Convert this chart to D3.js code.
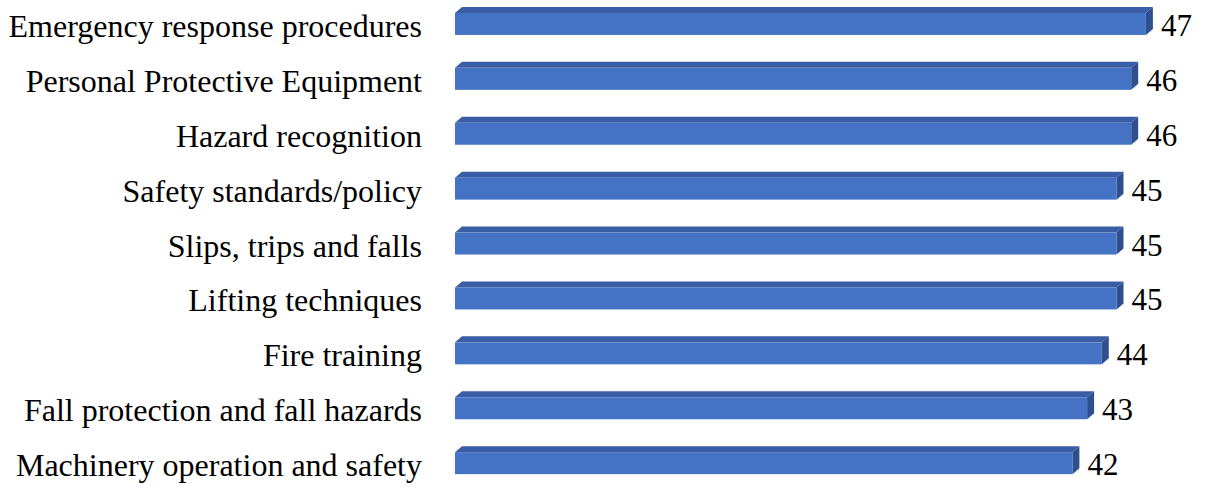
<!DOCTYPE html>
<html>
<head>
<meta charset="utf-8">
<script src="https://cdn.jsdelivr.net/npm/d3@7"></script>
<style>
  body { margin: 0; background: #fff; }
  text { font-family: "Liberation Serif", "Times New Roman", serif; fill: #000; }
</style>
</head>
<body>
<div id="chart"></div>
<script>
var width = 1207,
    height = 487;

// categories top to bottom and their values
const categories = [
    "Emergency response procedures",
    "Personal Protective Equipment",
    "Hazard recognition",
    "Safety standards/policy",
    "Slips, trips and falls",
    "Lifting techniques",
    "Fire training",
    "Fall protection and fall hazards",
    "Machinery operation and safety"
];
const values = [47, 46, 46, 45, 45, 45, 44, 43, 42];

// 3d depth of the bars
const depthX = 7,
    depthY = 6;

var x = d3.scaleLinear()
    .domain([0, 50])
    .range([455, 1190]);

var y = d3.scaleBand()
    .domain(categories)
    .range([-3.5, 490.6])
    .paddingInner(0.6)
    .paddingOuter(0.3);

var svg = d3.select("#chart")
    .append("svg")
    .attr("width", width)
    .attr("height", height);

var data = categories.map(function (c, i) { return { cat: c, val: values[i] }; });

var bars = svg.selectAll(".bar")
    .data(data)
    .enter().append("g")
    .attr("class", "bar");

// top face
bars.append("path")
    .attr("fill", "#3a5ea5")
    .attr("d", function (d) {
        var x0 = x(0), x1 = x(d.val), y0 = y(d.cat);
        return "M" + x0 + "," + y0 + "L" + (x0 + depthX) + "," + (y0 - depthY) +
            "L" + (x1 + depthX) + "," + (y0 - depthY) + "L" + x1 + "," + y0 + "Z";
    });

// side face
bars.append("path")
    .attr("fill", "#2f4f8f")
    .attr("d", function (d) {
        var x1 = x(d.val), y0 = y(d.cat), h = y.bandwidth();
        return "M" + x1 + "," + y0 + "L" + (x1 + depthX) + "," + (y0 - depthY) +
            "L" + (x1 + depthX) + "," + (y0 + h - depthY) + "L" + x1 + "," + (y0 + h) + "Z";
    });

// front face
bars.append("rect")
    .attr("x", x(0))
    .attr("y", function (d) { return y(d.cat); })
    .attr("width", function (d) { return x(d.val) - x(0); })
    .attr("height", y.bandwidth())
    .attr("fill", "#4472c4");

// value labels
bars.append("text")
    .attr("x", function (d) { return x(d.val) + depthX + 8; })
    .attr("y", function (d) { return y(d.cat) + y.bandwidth() / 2 + 12; })
    .attr("font-size", "31px")
    .text(function (d) { return d.val; });

// category labels
bars.append("text")
    .attr("x", 422)
    .attr("y", function (d) { return y(d.cat) + y.bandwidth() / 2 + 13; })
    .attr("text-anchor", "end")
    .attr("font-size", "32px")
    .text(function (d) { return d.cat; });
</script>
</body>
</html>
